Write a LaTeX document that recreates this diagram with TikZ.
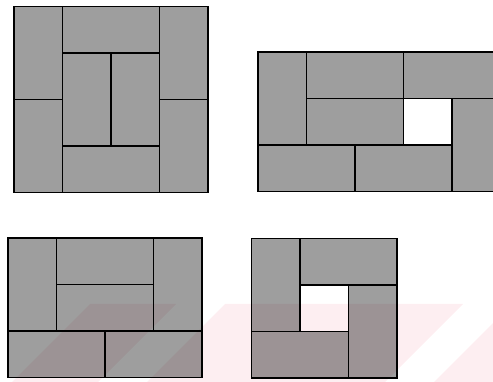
\documentclass[tikz,border=0pt]{standalone}
\usepackage{tikz}

\definecolor{wmpink}{HTML}{FDEEF1}

\begin{document}
\begin{tikzpicture}[
    x=1pt, y=-1pt,
    tile/.style={draw, line width=1.3pt, fill=black, fill opacity=0.38, draw opacity=1, inner sep=0pt, outer sep=0pt},
    hdom/.style={tile, minimum width=97pt, minimum height=46.5pt},
    vdom/.style={tile, minimum width=48.5pt, minimum height=93pt},
    stamp/.style={fill=wmpink, draw=none}
  ]
    \useasboundingbox (0,0) rectangle (493,382);
    \clip (0,0) rectangle (493,382);

    \fill[stamp] (90,304) -- (176,304) -- (98,382) -- (12,382) -- cycle;
    \fill[stamp] (225,304) -- (463,304) -- (385,382) -- (147,382) -- cycle;
    \fill[stamp] (512,304) -- (600,304) -- (522,382) -- (434,382) -- cycle;

    \node[vdom] (a1) at (38.25,53) {};
    \node[vdom] (a2) at (38.25,146) {};
    \node[hdom] (a3) at (111,29.75) {};
    \node[vdom] (a4) at (86.75,99.5) {};
    \node[vdom] (a5) at (135.25,99.5) {};
    \node[hdom] (a6) at (111,169.25) {};
    \node[vdom] (a7) at (183.75,53) {};
    \node[vdom] (a8) at (183.75,146) {};

    \node[vdom] (b1) at (282.25,98.5) {};
    \node[hdom] (b2) at (355,75.25) {};
    \node[hdom] (b3) at (452,75.25) {};
    \node[hdom] (b4) at (355,121.75) {};
    \node[vdom] (b5) at (476.25,145) {};
    \node[hdom] (b6) at (306.5,168.25) {};
    \node[hdom] (b7) at (403.5,168.25) {};

    \node[vdom] (c1) at (32.25,284.5) {};
    \node[hdom] (c2) at (105,261.25) {};
    \node[hdom] (c3) at (105,307.75) {};
    \node[vdom] (c4) at (177.75,284.5) {};
    \node[hdom] (c5) at (56.5,354.25) {};
    \node[hdom] (c6) at (153.5,354.25) {};

    \node[vdom] (d1) at (275.75,285) {};
    \node[hdom] (d2) at (348.5,261.75) {};
    \node[vdom] (d3) at (372.75,331.5) {};
    \node[hdom] (d4) at (300,354.75) {};
  \end{tikzpicture}
\end{document}
